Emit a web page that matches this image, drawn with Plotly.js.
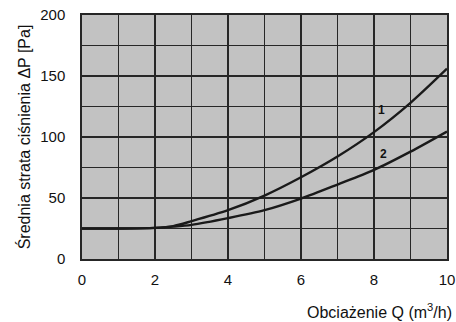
<!DOCTYPE html>
<html>
<head>
<meta charset="utf-8">
<script src="https://cdn.plot.ly/plotly-3.0.1.min.js"></script>
<style>html,body{margin:0;padding:0;background:#fff;}#chart{width:456px;height:322px;}</style>
</head>
<body>
<div id="chart"></div>
<script>
const flowQ = [0, 1, 2, 2.5, 3, 4, 5, 6, 7, 8, 9, 10];
const curve1 = [25, 25, 25.5, 27, 31, 40, 52, 67, 84, 104, 128, 156];
const curve2 = [25, 25, 25.5, 26.5, 28, 33.5, 40, 49.5, 61, 73, 88, 104.5];
const curveLabels = ["1", "2"];
const labelPos = [[8.2, 122], [8.25, 86]];
const xTicks = [0, 2, 4, 6, 8, 10];
const yTicks = [0, 50, 100, 150, 200];

const font = {family: 'Liberation Sans, Arial, sans-serif', color: '#111111'};
const lineStyle = {color: '#1a1a1a', width: 2.4, shape: 'spline', smoothing: 0.8};

const traces = [
  {x: flowQ, y: curve1, mode: 'lines', line: lineStyle, hoverinfo: 'skip'},
  {x: flowQ, y: curve2, mode: 'lines', line: lineStyle, hoverinfo: 'skip'}
];

const annotations = curveLabels.map((t, i) => ({
  x: labelPos[i][0], y: labelPos[i][1], text: '<b>' + t + '</b>', showarrow: false,
  font: {family: font.family, color: font.color, size: 12}
}));
annotations.push({
  xref: 'paper', yref: 'paper', x: 1.02, y: -0.215, xanchor: 'right', yanchor: 'middle',
  text: 'Obciażenie Q (m<sup>3</sup>/h)', showarrow: false,
  font: {family: font.family, color: font.color, size: 16}
});

const gridCol = '#262626';
const layout = {
  width: 456, height: 322,
  margin: {l: 82, r: 9, t: 15, b: 63},
  paper_bgcolor: '#ffffff',
  plot_bgcolor: '#c2c2c2',
  showlegend: false,
  font: {family: font.family, color: font.color, size: 13},
  xaxis: {
    range: [0, 10], tickvals: xTicks, ticktext: xTicks.map(String),
    showgrid: true, gridcolor: gridCol, gridwidth: 1.7,
    minor: {dtick: 1, showgrid: true, gridcolor: gridCol, gridwidth: 1.7},
    zeroline: false, showline: true, mirror: true, linecolor: gridCol, linewidth: 1.7,
    ticks: '', ticklabelstandoff: 6,
    tickfont: {family: font.family, color: font.color, size: 15}
  },
  yaxis: {
    range: [0, 200], tickvals: yTicks, ticktext: yTicks.map(String),
    showgrid: true, gridcolor: gridCol, gridwidth: 1.7,
    minor: {dtick: 25, showgrid: true, gridcolor: gridCol, gridwidth: 1.7},
    zeroline: false, showline: true, mirror: true, linecolor: gridCol, linewidth: 1.7,
    ticks: '', ticklabelstandoff: 12,
    tickfont: {family: font.family, color: font.color, size: 15},
    title: {text: 'Średnia strata ciśnienia ΔP [Pa]', standoff: 6, font: {family: font.family, color: font.color, size: 16}}
  },
  annotations: annotations
};

Plotly.newPlot('chart', traces, layout, {displayModeBar: false, staticPlot: true});
</script>
</body>
</html>
